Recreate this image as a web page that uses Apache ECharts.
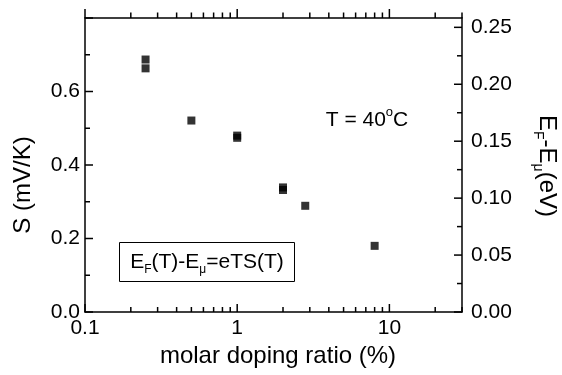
<!DOCTYPE html>
<html><head><meta charset="utf-8">
<script src="https://cdn.jsdelivr.net/npm/echarts@6/dist/echarts.min.js"></script>
<style>html,body{margin:0;padding:0;background:#fff}#c{width:562px;height:375px}</style>
</head><body><div id="c"></div>
<script>
// ---- data ----
const dopingRatio = [0.25, 0.25, 0.5, 1, 1, 2, 2, 2.8, 8];
const seebeckS    = [0.687, 0.663, 0.521, 0.480, 0.474, 0.339, 0.332, 0.289, 0.180];
const xMajorTicks = [0.1, 1, 10];
const xTickLabels = ['0.1', '1', '10'];
const xMinorTicks = [0.2,0.3,0.4,0.5,0.6,0.7,0.8,0.9,2,3,4,5,6,7,8,9,20,30];
const sMajorTicks = [0, 0.2, 0.4, 0.6, 0.8];
const sMinorTicks = [0.1, 0.3, 0.5, 0.7];
const eMajorTicks = [0, 0.05, 0.10, 0.15, 0.20, 0.25];
const eMinorTicks = [0.025, 0.075, 0.125, 0.175, 0.225];
const xRange = [0.1, 30];
const sRange = [0, 0.8];
const eRange = [0, 0.2582];

const FF = 'Arial, "Liberation Sans", Helvetica, sans-serif';
const lg = v => Math.log10(v);
const black = '#000';
const LW = 1.5;

// tick marks drawn through the axes' scales (api.coord)
function tickSeries(side, values, len) {
  const data = values.map(v => {
    if (side === 'bottom') return [lg(v), sRange[0]];
    if (side === 'top') return [lg(v), sRange[1]];
    if (side === 'left') return [lg(xRange[0]), v];
    return [lg(xRange[1]), v];
  });
  return {
    type: 'custom', xAxisIndex: 0, yAxisIndex: side === 'right' ? 1 : 0,
    silent: true, clip: false, z: 5,
    data: data,
    renderItem: (params, api) => {
      const p = api.coord([api.value(0), api.value(1)]);
      let x2 = p[0], y2 = p[1];
      if (side === 'bottom' || side === 'top') y2 = p[1] - len;   // bottom: inward, top: outward
      else if (side === 'left') x2 = p[0] + len;
      else x2 = p[0] - len;
      return {type: 'line', shape: {x1: p[0], y1: p[1], x2: x2, y2: y2},
        style: {stroke: black, lineWidth: LW}};
    }
  };
}

const chart = echarts.init(document.getElementById('c'), null, {renderer: 'canvas'});
chart.setOption({
  animation: false,
  backgroundColor: '#fff',
  grid: {left: 85, right: 100, top: 18, bottom: 63, containLabel: false, outerBoundsMode: 'none'},
  xAxis: [
    {
      type: 'value', position: 'bottom', min: lg(xRange[0]), max: lg(xRange[1]),
      axisLine: {show: true, onZero: false, lineStyle: {color: black, width: LW}},
      axisTick: {show: false},
      axisLabel: {
        show: true, customValues: xMajorTicks.map(lg), margin: 6,
        fontSize: 21, fontFamily: FF, color: black,
        formatter: v => { const i = xMajorTicks.findIndex(t => Math.abs(lg(t) - v) < 1e-6); return i >= 0 ? xTickLabels[i] : ''; }
      },
      splitLine: {show: false}
    },
    {
      type: 'value', position: 'top', min: lg(xRange[0]), max: lg(xRange[1]),
      axisLine: {show: true, onZero: false, lineStyle: {color: black, width: LW}},
      axisTick: {show: false}, axisLabel: {show: false}, splitLine: {show: false}
    }
  ],
  yAxis: [
    {
      type: 'value', position: 'left', min: sRange[0], max: sRange[1], interval: 0.2,
      axisLine: {show: true, onZero: false, lineStyle: {color: black, width: LW}},
      axisTick: {show: false},
      axisLabel: {show: true, showMaxLabel: false, margin: 5, fontSize: 21, fontFamily: FF, color: black,
        formatter: v => v.toFixed(1)},
      splitLine: {show: false}
    },
    {
      type: 'value', position: 'right', min: eRange[0], max: eRange[1],
      axisLine: {show: true, onZero: false, lineStyle: {color: black, width: LW}},
      axisTick: {show: false},
      axisLabel: {show: true, customValues: eMajorTicks, margin: 9, fontSize: 21, fontFamily: FF, color: black,
        formatter: v => v.toFixed(2)},
      splitLine: {show: false}
    }
  ],
  series: [
    {
      type: 'scatter', xAxisIndex: 0, yAxisIndex: 0,
      symbol: 'rect', symbolSize: 8, z: 10,
      itemStyle: {color: black},
      data: dopingRatio.map((x, i) => [lg(x), seebeckS[i]])
    },
    tickSeries('bottom', xMajorTicks, 8),
    tickSeries('bottom', xMinorTicks, 5),
    tickSeries('top', xMajorTicks, 9),
    tickSeries('top', xMinorTicks, 5.5),
    tickSeries('left', sMajorTicks, 8),
    tickSeries('left', sMinorTicks, 5),
    tickSeries('right', eMajorTicks, 8),
    tickSeries('right', eMinorTicks, 5)
  ],
  graphic: [
    {type: 'text', x: 23, y: 185, rotation: Math.PI / 2,
      style: {text: 'S (mV/K)', font: '24px ' + FF, fill: black, align: 'center', verticalAlign: 'middle', textAlign: 'center', textVerticalAlign: 'middle'}},
    {type: 'text', x: 278, y: 356,
      style: {text: 'molar doping ratio (%)', font: '24px ' + FF, fill: black, align: 'center', verticalAlign: 'middle', textAlign: 'center', textVerticalAlign: 'middle'}},
    {type: 'text', x: 547, y: 166, rotation: -Math.PI / 2,
      style: {text: 'E{sub|F}-E{sub|μ}(eV)', font: '24px ' + FF, lineHeight: 32, fill: black,
        align: 'center', verticalAlign: 'middle', textAlign: 'center', textVerticalAlign: 'middle',
        rich: {sub: {fontSize: 14, fontFamily: FF, lineHeight: 5, verticalAlign: 'bottom', fill: black}}}},
    {type: 'text', x: 367, y: 120,
      style: {text: 'T = 40{sup|o}C', font: '21px ' + FF, lineHeight: 28, fill: black,
        align: 'center', verticalAlign: 'middle', textAlign: 'center', textVerticalAlign: 'middle',
        rich: {sup: {fontSize: 13, fontFamily: FF, lineHeight: 15, verticalAlign: 'top', fill: black}}}},
    {type: 'rect', shape: {x: 119.5, y: 242.5, width: 175, height: 39},
      style: {fill: 'none', stroke: black, lineWidth: 1}},
    {type: 'text', x: 207, y: 262,
      style: {text: 'E{sub|F}(T)-E{sub|μ}=eTS(T)', font: '21px ' + FF, lineHeight: 28, fill: black,
        align: 'center', verticalAlign: 'middle', textAlign: 'center', textVerticalAlign: 'middle',
        rich: {sub: {fontSize: 12, fontFamily: FF, lineHeight: 5, verticalAlign: 'bottom', fill: black}}}}
  ]
});
</script>
</body></html>
